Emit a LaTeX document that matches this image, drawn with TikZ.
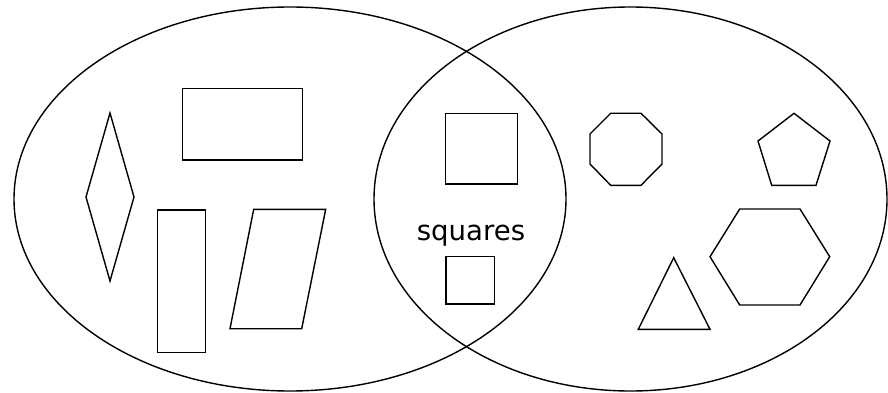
\documentclass[tikz,border=0pt]{standalone}
\usepackage{fontspec}
\setmainfont{DejaVu Sans}
\begin{document}
\begin{tikzpicture}[
 x=1pt,y=-1pt,
 set/.style={draw,line width=1.4pt},
 figure/.style={draw,line width=1.4pt,line join=miter},
 setlabel/.style={font=\fontsize{27.6}{33}\selectfont,inner sep=0pt,anchor=base}
]
\useasboundingbox (0,0) rectangle (888,393);
% the two sets
\draw[set] (290,199) ellipse [x radius=276pt,y radius=192pt];
\draw[set] (630.5,199) ellipse [x radius=256.5pt,y radius=192pt];
% left set only
\draw[figure] (110,113) -- (134,197) -- (110,281) -- (86,197) -- cycle;
\draw[figure] (182.3,88.3) rectangle (302.3,160);
\draw[figure] (157.7,210) rectangle (205.3,352.7);
\draw[figure] (253.7,209.3) -- (325.7,209.3) -- (301.7,328.7) -- (230,328.7) -- cycle;
% both sets
\draw[figure] (445.7,113.3) rectangle (517.7,184);
\node[setlabel] (squares) at (471,240) {squares};
\draw[figure] (446,256.7) rectangle (494.3,304);
% right set only
\draw[figure] (610.7,113.3) -- (641,113.3) -- (662,134) -- (662,164) -- (641,185.3)
  -- (610.7,185.3) -- (590,164) -- (590,134) -- cycle;
\draw[figure] (794,113.3) -- (830,141) -- (816,185.3) -- (771.7,185.3) -- (758,141) -- cycle;
\draw[figure] (710,256.7) -- (739.7,209) -- (800,209) -- (829.7,256.7) -- (800,305)
  -- (739.7,305) -- cycle;
\draw[figure] (673.7,257.7) -- (710,329.3) -- (638.3,329.3) -- cycle;
\end{tikzpicture}
\end{document}
